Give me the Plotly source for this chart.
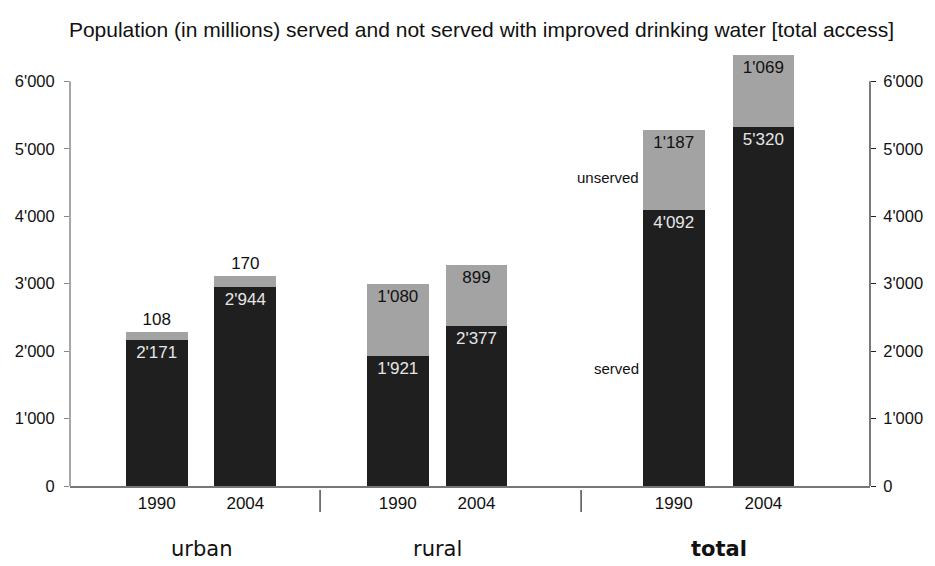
import plotly.graph_objects as go

# Population with improved drinking water (millions)
groups = ["urban", "rural", "total"]
years = ["1990", "2004"]
served = [2171, 2944, 1921, 2377, 4092, 5320]
unserved = [108, 170, 1080, 899, 1187, 1069]
y_ticks = [0, 1000, 2000, 3000, 4000, 5000, 6000]

# horizontal layout of the bar slots (x axis runs 0..803)
x_pos = [87, 176, 329, 408, 606, 696]
group_centers = [131.5, 368.5, 651]
separators = [251, 513]
bar_width = 62
Y_TOP = 6420  # headroom so the tallest stack can rise past the 6'000 tick

SERVED_COLOR = "#1f1f1f"
UNSERVED_COLOR = "#a3a3a3"
FONT = "Liberation Sans, Arial"


def fmt(v):
    return f"{v:,}".replace(",", "'")


fig = go.Figure()

fig.add_trace(go.Bar(
    x=x_pos, y=served, width=bar_width,
    marker=dict(color=SERVED_COLOR, line=dict(width=0)),
    text=[fmt(v) for v in served],
    textposition="inside", insidetextanchor="end",
    textfont=dict(color="#e6e6e6", size=17, family=FONT),
    constraintext="none",
    showlegend=False, hoverinfo="skip",
))

fig.add_trace(go.Bar(
    x=x_pos, y=unserved, width=bar_width,
    marker=dict(color=UNSERVED_COLOR, line=dict(width=0)),
    text=[fmt(v) for v in unserved],
    textposition=["outside", "outside", "inside", "inside", "inside", "inside"],
    insidetextanchor="end",
    textfont=dict(color="#111111", size=17, family=FONT),
    constraintext="none", cliponaxis=False,
    showlegend=False, hoverinfo="skip",
))

# invisible trace to carry the right-hand axis
fig.add_trace(go.Scatter(x=[x_pos[0]], y=[0], yaxis="y2", mode="markers",
                         marker=dict(opacity=0), showlegend=False,
                         hoverinfo="skip"))

# vertical axis lines, stopping at the 6'000 tick
fig.add_shape(type="line", xref="paper", yref="y", x0=0, x1=0,
              y0=0, y1=y_ticks[-1], line=dict(color="#8a8a8a", width=1.5))
fig.add_shape(type="line", xref="paper", yref="y", x0=1, x1=1,
              y0=0, y1=y_ticks[-1], line=dict(color="#222", width=1.2))

# group separator ticks below the axis
for sx in separators:
    fig.add_shape(type="line", xref="x", yref="paper", x0=sx, x1=sx,
                  y0=-0.009, y1=-0.06, line=dict(color="#222", width=1.2))

# group names
for gx, name in zip(group_centers, groups):
    label = f"<b>{name}</b>" if name == "total" else name
    fig.add_annotation(x=gx, y=-0.1455, xref="x", yref="paper", text=label,
                       showarrow=False, yanchor="middle",
                       font=dict(size=21, family="DejaVu Sans, Arial", color="#111"))

# series labels beside the total 1990 bar
fig.add_annotation(x=573, y=4578, xref="x", yref="y", text="unserved",
                   showarrow=False, xanchor="right", yanchor="middle",
                   font=dict(size=15, family=FONT, color="#111"))
fig.add_annotation(x=573, y=1748, xref="x", yref="y", text="served",
                   showarrow=False, xanchor="right", yanchor="middle",
                   font=dict(size=15, family=FONT, color="#111"))

tick_text = [fmt(v) for v in y_ticks]

fig.update_layout(
    width=935, height=566,
    margin=dict(l=70, r=62, t=53, b=80),
    paper_bgcolor="white", plot_bgcolor="white",
    barmode="stack",
    title=dict(
        text="Population (in millions) served and not served with improved drinking water [total access]",
        x=0.515, xref="container", xanchor="center",
        y=0.947, yref="container", yanchor="middle",
        font=dict(size=21, family=FONT, color="#111"),
    ),
    xaxis=dict(
        range=[0, 803], showgrid=False, zeroline=False,
        showline=True, linecolor="#777", linewidth=1.5,
        tickvals=x_pos, ticktext=years * 3, ticks="",
        tickfont=dict(size=17, family=FONT, color="#111"),
        ticklabelstandoff=1,
    ),
    yaxis=dict(
        range=[0, Y_TOP], showgrid=False, zeroline=False,
        showline=False,
        tickvals=y_ticks, ticktext=tick_text,
        ticks="outside", ticklen=5, tickcolor="#888",
        tickfont=dict(size=16.5, family=FONT, color="#111"),
        ticklabelstandoff=6,
    ),
    yaxis2=dict(
        range=[0, Y_TOP], overlaying="y", side="right",
        showgrid=False, zeroline=False,
        showline=False,
        tickvals=y_ticks, ticktext=tick_text,
        ticks="outside", ticklen=5, tickcolor="#222",
        tickfont=dict(size=16.5, family=FONT, color="#111"),
        ticklabelstandoff=4,
    ),
)

fig.write_html("out.html")
